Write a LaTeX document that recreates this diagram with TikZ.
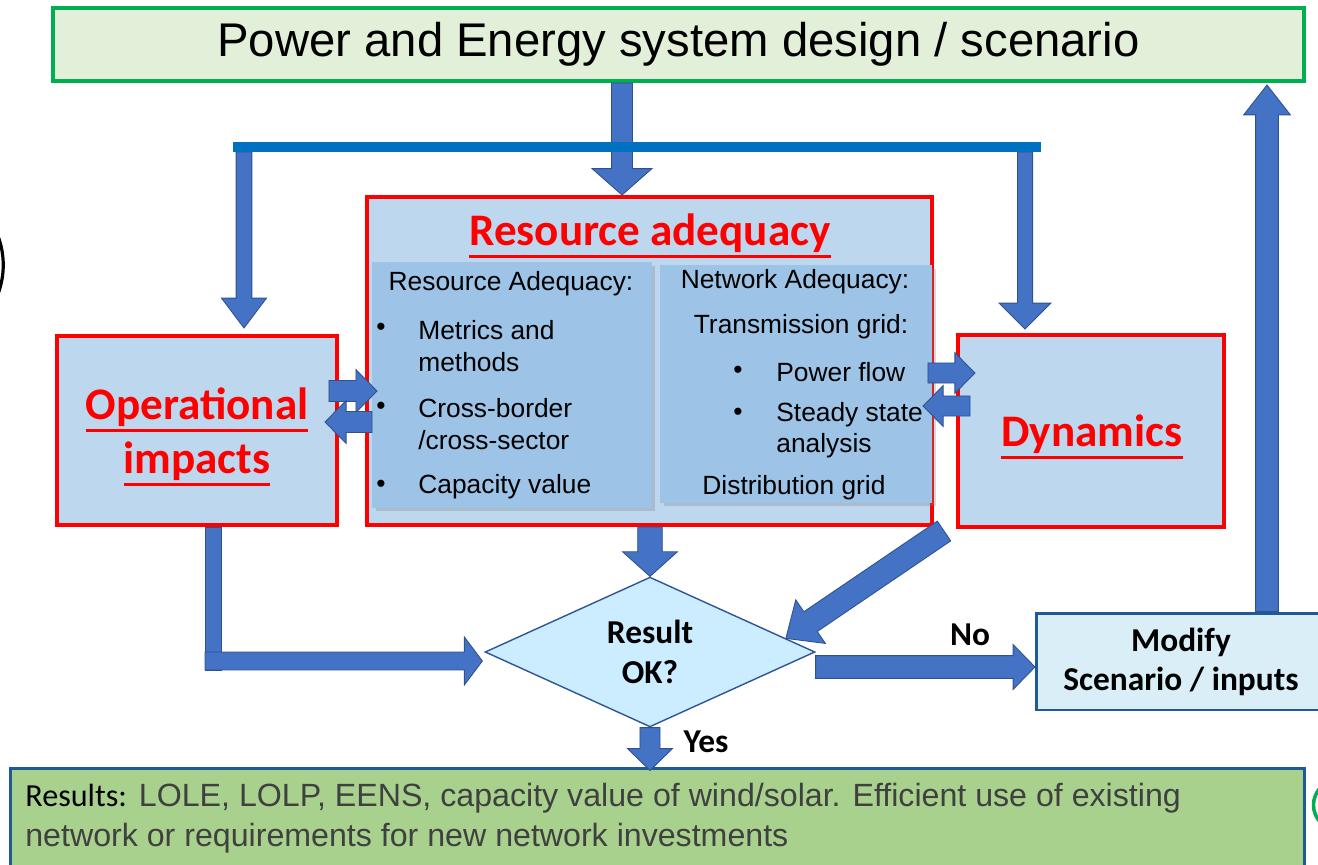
\documentclass[tikz,border=0pt]{standalone}
\usepackage{fontspec}
\setmainfont{Liberation Sans}
\newfontfamily\calibri{Carlito}
\usetikzlibrary{calc,shapes.geometric,shadows}

\definecolor{arrowfill}{HTML}{4472C4}
\definecolor{arrowline}{HTML}{2F528F}
\definecolor{barblue}{HTML}{0070C0}
\definecolor{boxblue}{HTML}{BDD7EE}
\definecolor{innerblue}{HTML}{9DC3E6}
\definecolor{topgreen}{HTML}{00B050}
\definecolor{topfill}{HTML}{E2F0D9}
\definecolor{okfill}{HTML}{CCECFF}
\definecolor{okline}{HTML}{2F5597}
\definecolor{modfill}{HTML}{DAEEF8}
\definecolor{darkline}{HTML}{1F5A96}
\definecolor{resfill}{HTML}{A9D18E}
\definecolor{restext}{HTML}{404040}

% thick underline for the red headings
\newcommand\uln[1]{\setbox0\hbox{#1}\leavevmode\rlap{\rule[-7pt]{\wd0}{1.6pt}}\box0}

\tikzset{
  barrow/.style={fill=arrowfill, draw=arrowline, line width=0.5pt},
  topbox/.style={draw=topgreen, line width=2.3pt, fill=topfill, font=\fontsize{26.9}{32}\selectfont},
  box/.style={draw=red, line width=2.3pt, fill=boxblue},
  head/.style={text=red, align=center, font=\calibri\bfseries\fontsize{25.7}{30.8}\selectfont},
  inbox/.style={fill=innerblue, drop shadow={opacity=0.3, shadow xshift=2pt, shadow yshift=-2pt}},
  listtext/.style={align=left, font=\fontsize{15}{17.8}\selectfont},
  decision/.style={diamond, draw=okline, line width=0.8pt, fill=okfill, align=center, font=\calibri\bfseries\fontsize{19}{22.8}\selectfont},
  modbox/.style={draw=darkline, line width=1.7pt, fill=modfill, align=center, font=\calibri\bfseries\fontsize{19}{22.3}\selectfont},
  resbox/.style={draw=darkline, line width=1.7pt, fill=resfill},
  declabel/.style={font=\calibri\bfseries\fontsize{19}{22.8}\selectfont},
  bar/.style={draw=barblue, line width=5.7pt}
}

% block arrow: tail, tip, half shaft, half head, head length
\newcommand\blockarrow[5]{%
  \coordinate (hb) at ($(#2)!#5!(#1)$);
  \filldraw[barrow] ($(#1)!#3!90:(#2)$) -- ($(hb)!#3!90:(#2)$) -- ($(hb)!#4!90:(#2)$) -- (#2)
    -- ($(hb)!#4!-90:(#2)$) -- ($(hb)!#3!-90:(#2)$) -- ($(#1)!#3!-90:(#2)$) -- cycle;}
% shaft only
\newcommand\blockbar[3]{%
  \filldraw[barrow] ($(#1)!#3!90:(#2)$) -- ($(#2)!#3!-90:(#1)$) -- ($(#2)!#3!90:(#1)$) -- ($(#1)!#3!-90:(#2)$) -- cycle;}

\begin{document}
\begin{tikzpicture}[x=0.02cm, y=0.02cm]
\tikzstyle{every node}+=[inner sep=0pt]
\useasboundingbox (0,0) rectangle (1318,-865);

\node[topbox, minimum width=25.02cm, minimum height=1.46cm] (top) at (678.5,-44.5) {Power and Energy system design / scenario};

\node[box, minimum width=11.3cm, minimum height=6.56cm] (ra) at (649.5,-361) {};
\node[head] (ratitle) at (650,-236) {\uln{Resource adequacy}};
\node[inbox, minimum width=5.6cm, minimum height=4.92cm] (ral) at (512,-385) {};
\node[inbox, minimum width=5.44cm, minimum height=4.76cm] (rar) at (796,-384) {};

\node[listtext] (ralhead) at (511,-284) {Resource Adequacy:};
\node[listtext] (bu1) at (381,-329) {\textbullet};
\node[listtext, anchor=west] (it1) at (418,-346) {Metrics and\\methods};
\node[listtext] (bu2) at (381,-408) {\textbullet};
\node[listtext, anchor=west] (it2) at (418,-424) {Cross-border\\/cross-sector};
\node[listtext] (bu3) at (381,-486) {\textbullet};
\node[listtext, anchor=west] (it3) at (418,-487) {Capacity value};

\node[listtext] (rarhead) at (795,-282) {Network Adequacy:};
\node[listtext] (trans) at (801,-327) {Transmission grid:};
\node[listtext] (bu4) at (738,-372) {\textbullet};
\node[listtext, anchor=west] (it4) at (776,-372) {Power flow};
\node[listtext] (bu5) at (738,-414) {\textbullet};
\node[listtext, anchor=west] (it5) at (776,-430) {Steady state\\analysis};
\node[listtext] (distr) at (794,-488) {Distribution grid};

\node[box, minimum width=5.6cm, minimum height=3.78cm] (op) at (197,-430.5) {};
\node[head] (optitle) at (197,-437) {\uln{Operational}\\\uln{impacts}};
\node[box, minimum width=5.32cm, minimum height=3.84cm] (dyn) at (1091,-431) {};
\node[head] (dyntitle) at (1092,-437) {\uln{Dynamics}};

\node[decision, minimum width=6.6cm, minimum height=2.7cm] (ok) at (650,-652) {Result\\OK?};
\node[modbox, minimum width=5.78cm, minimum height=1.94cm] (mod) at (1181,-661.5) {Modify\\Scenario / inputs};
\node[resbox, minimum width=25.9cm, minimum height=1.96cm] (res) at (657.5,-817) {};
\node[anchor=west, align=left, text=restext, font=\fontsize{18.3}{22.7}\selectfont] (restxt) at (25,-818)
  {{\calibri\color{black}Results:} LOLE, LOLP, EENS, capacity value of wind/solar. Efficient use of existing\\network or requirements for new network investments};

\node[declabel] (no) at (970,-635) {No};
\node[declabel] (yes) at (706,-742) {Yes};

\coordinate (c1) at (622,0);
\coordinate (a1s) at (top.south -| c1);
\coordinate (a1e) at (ra.north -| c1);
\blockarrow{a1s}{a1e}{6pt}{17pt}{15pt}

\coordinate (a2s) at (244,-152);
\coordinate (a2e) at ($(op.north -| a2s)+(0,6)$);
\blockarrow{a2s}{a2e}{4.5pt}{12.8pt}{17pt}
\coordinate (a3s) at (1025,-152);
\coordinate (a3e) at ($(dyn.north -| a3s)+(0,4)$);
\blockarrow{a3s}{a3e}{4.3pt}{14.7pt}{14.7pt}
\coordinate (bl) at (233,-147);
\coordinate (br) at (1041,-147);
\draw[bar] (bl) -- (br);

\coordinate (y1) at (0,-391);
\coordinate (y2) at (0,-422);
\coordinate (y3) at (0,-373);
\coordinate (y4) at (0,-406);
\coordinate (b1s) at ($(op.east |- y1)+(-10,0)$);
\coordinate (b1e) at ($(ra.west |- y1)+(12,0)$);
\blockarrow{b1s}{b1e}{6pt}{12.2pt}{12pt}
\coordinate (b2s) at ($(ra.west |- y2)+(7,0)$);
\coordinate (b2e) at ($(op.east |- y2)+(-14,0)$);
\blockarrow{b2s}{b2e}{6pt}{12.2pt}{12pt}
\coordinate (b3s) at ($(ra.east |- y3)+(-6,0)$);
\coordinate (b3e) at ($(dyn.west |- y3)+(19,0)$);
\blockarrow{b3s}{b3e}{5.7pt}{11.6pt}{11.5pt}
\coordinate (b4s) at ($(dyn.west |- y4)+(14,0)$);
\coordinate (b4e) at ($(ra.east |- y4)+(-11,0)$);
\blockarrow{b4s}{b4e}{5.7pt}{11.6pt}{11.5pt}

\coordinate (a5s) at (ra.south -| ok.north);
\blockarrow{a5s}{ok.north}{7pt}{15.6pt}{14pt}

\coordinate (a6s) at ($(dyn.south west)+(-12,-2)$);
\coordinate (a6e) at ($(ok.north)!0.82!(ok.east)$);
\blockarrow{a6s}{a6e}{6.8pt}{15pt}{17pt}

\coordinate (elb) at (213.5,-661);
\coordinate (elbs) at (op.south -| elb);
\coordinate (elbe) at ($(elb)+(0,-9)$);
\blockbar{elbs}{elbe}{4.8pt}
\coordinate (a9s) at ($(elb)+(-8.5,0)$);
\coordinate (a9e) at ($(ok.west |- elb)+(-2,0)$);
\blockarrow{a9s}{a9e}{5.1pt}{13.6pt}{10.2pt}

\coordinate (y5) at (0,-667);
\coordinate (a7s) at (ok.east |- y5);
\coordinate (a7e) at (mod.west |- y5);
\blockarrow{a7s}{a7e}{6.5pt}{12.8pt}{12.5pt}

\coordinate (c2) at (1267,0);
\coordinate (a8s) at (mod.north -| c2);
\coordinate (a8e) at ($(top.south -| c2)+(0,-2)$);
\blockarrow{a8s}{a8e}{6.5pt}{13.3pt}{17pt}

\coordinate (a10e) at ($(res.north -| ok.south)+(0,-4)$);
\blockarrow{ok.south}{a10e}{5.7pt}{12.8pt}{12.5pt}

\draw[line width=1.8pt] (-2,-236) .. controls (5,-255) and (5,-275) .. (-2,-294);
\draw[topgreen, line width=2pt] (1321,-787) .. controls (1311,-797) and (1311,-813) .. (1321,-823);
\end{tikzpicture}
\end{document}
